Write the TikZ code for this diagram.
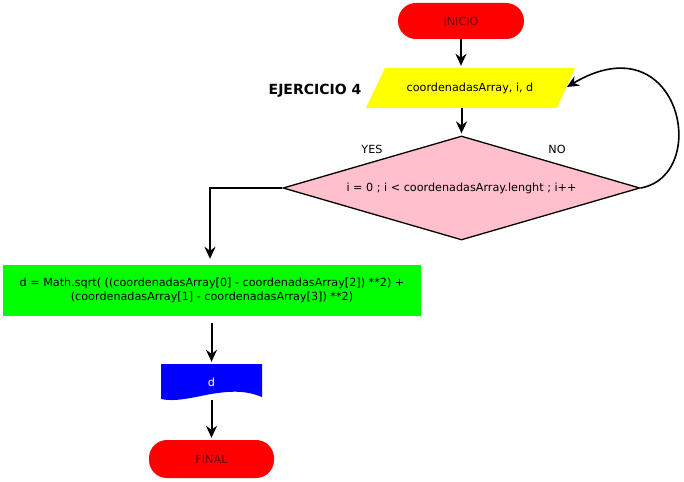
\documentclass[tikz,border=0pt]{standalone}
\usepackage{fontspec}
\setmainfont{DejaVu Sans}
\usetikzlibrary{shapes.geometric,arrows.meta}
\definecolor{termred}{RGB}{255,0,0}
\definecolor{termtext}{RGB}{110,0,0}
\definecolor{inyellow}{RGB}{255,255,0}
\definecolor{decpink}{RGB}{255,192,203}
\definecolor{procgreen}{RGB}{0,255,0}
\definecolor{outblue}{RGB}{0,0,255}
\begin{document}
\begin{tikzpicture}[x=1pt,y=-1pt,
  font=\fontsize{11.2}{14}\selectfont,
  arr/.style={-{Stealth[length=12pt,width=11pt,inset=4pt]}, line width=2pt, shorten >=2pt},
  term/.style={rectangle, rounded corners=18pt, fill=termred, text=termtext, inner sep=0pt},
  lbl/.style={inner sep=0pt}]
\useasboundingbox (0,0) rectangle (684,481);
% INICIO
\node[term, minimum width=126pt, minimum height=36pt] (ini) at (461,21) {INICIO};
% input parallelogram
\fill[inyellow] (385,68) -- (575,68) -- (557,108) -- (366,108) -- cycle;
\node[lbl, minimum width=190pt, minimum height=40pt] (par) at (470,88) {coordenadasArray, i, d};
\node[lbl, font=\fontsize{14}{16}\selectfont\bfseries] (title) at (315,91) {EJERCICIO 4};
% decision
\node[diamond, draw=black, line width=1.3pt, fill=decpink, minimum width=357pt, minimum height=104pt, inner sep=0pt, aspect=3.4] (dec) at (461.5,188) {i = 0 ; i < coordenadasArray.lenght ; i++};
\node[lbl] (yes) at (372,149) {YES};
\node[lbl] (no) at (557,149) {NO};
% process
\node[fill=procgreen, minimum width=418pt, minimum height=51pt, align=center, inner sep=0pt] (calc) at (212,290.5)
  {d = Math.sqrt( ((coordenadasArray[0] - coordenadasArray[2]) **2) +\\(coordenadasArray[1] - coordenadasArray[3]) **2)};
% output document
\fill[outblue] (161,364) -- (262,364) -- (262,397) .. controls (245,390) and (230,391) .. (211,394) .. controls (190,398) and (175,402) .. (161,399) -- cycle;
\node[lbl, text=white, minimum width=101pt, minimum height=36pt] (out) at (211.5,382) {d};
% FINAL
\node[term, minimum width=125pt, minimum height=38pt] (fin) at (211.5,459) {FINAL};
% connectors
\draw[arr] (ini.south) -- (ini.south |- par.north);
\draw[arr] (dec.north |- par.south) -- (dec.north);
\draw[arr] (dec.west) -| ([yshift=4pt]calc.north -| 210,0);
\draw[arr, line width=1.6pt] (dec.east) .. controls (712,175) and (680,20) .. (par.east);
\draw[arr, shorten <=7pt] (calc.south -| out.north) -- (out.north);
\draw[arr] (out.south) -- (fin.north);
\end{tikzpicture}
\end{document}
